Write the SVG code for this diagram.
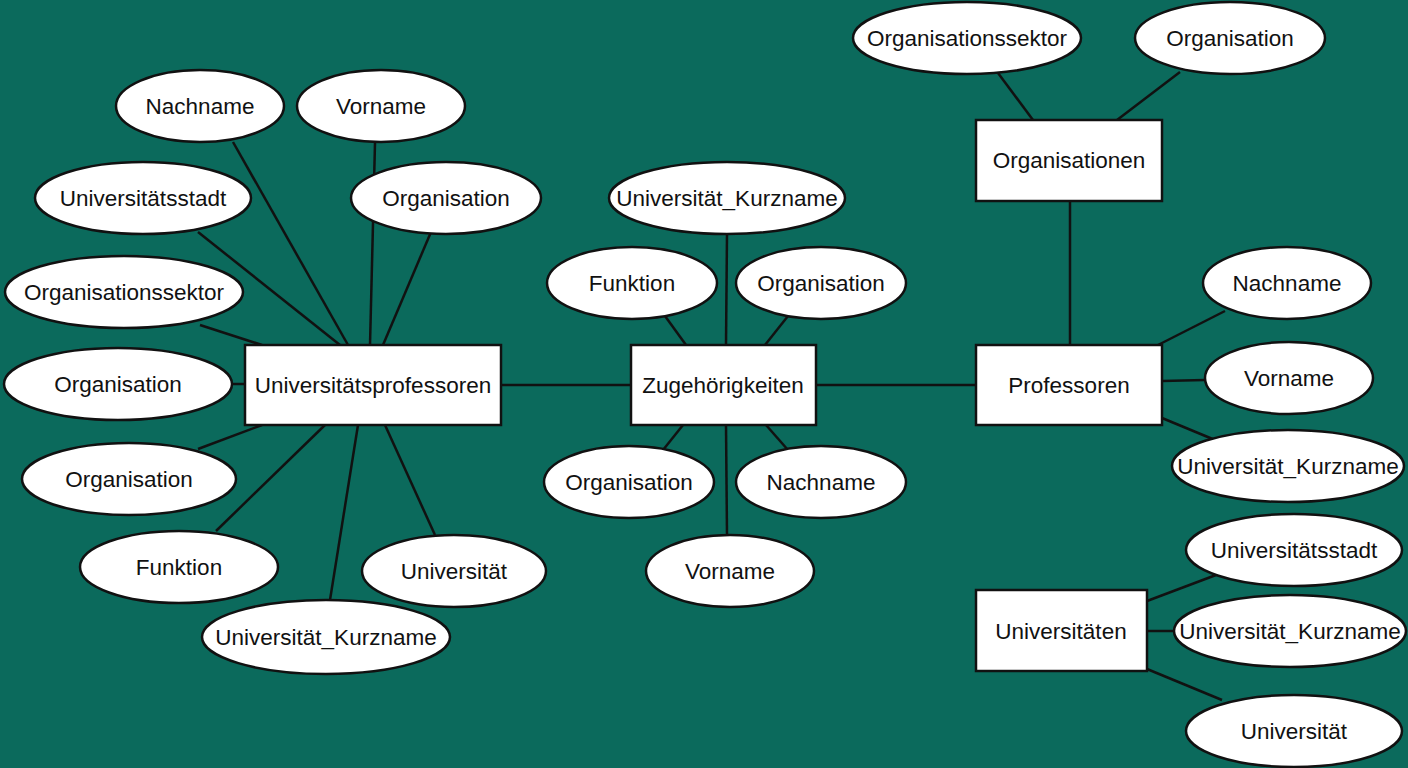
<svg xmlns="http://www.w3.org/2000/svg" width="1408" height="768" viewBox="0 0 1408 768">
<style>
.bg{fill:#0b6a5c}
.e{fill:#fff;stroke:#111;stroke-width:2.5}
.r{fill:#fff;stroke:#111;stroke-width:2.5}
.t{font-family:"Liberation Sans",Arial,sans-serif;font-size:22.5px;fill:#111;text-anchor:middle;dominant-baseline:central}
#connectors line{stroke:#111;stroke-width:2.5}
</style>
<rect class="bg" x="0" y="0" width="1408" height="768"/>
<g id="connectors">
<line x1="233" y1="142" x2="348" y2="345"/>
<line x1="375" y1="143" x2="370" y2="345"/>
<line x1="198" y1="232" x2="340" y2="345"/>
<line x1="431" y1="232" x2="383" y2="345"/>
<line x1="200" y1="325" x2="262" y2="345"/>
<line x1="230" y1="384" x2="245" y2="384"/>
<line x1="198" y1="449" x2="262" y2="425"/>
<line x1="216" y1="531" x2="325" y2="425"/>
<line x1="330" y1="600" x2="358" y2="425"/>
<line x1="435" y1="535" x2="385" y2="425"/>
<line x1="501" y1="385" x2="631" y2="385"/>
<line x1="727" y1="234" x2="726" y2="345"/>
<line x1="665" y1="316" x2="686" y2="345"/>
<line x1="788" y1="316" x2="765" y2="345"/>
<line x1="663" y1="450" x2="683" y2="425"/>
<line x1="788" y1="450" x2="766" y2="425"/>
<line x1="727" y1="535" x2="726" y2="425"/>
<line x1="816" y1="385" x2="976" y2="385"/>
<line x1="1070" y1="201" x2="1070" y2="345"/>
<line x1="1225" y1="311" x2="1158" y2="345"/>
<line x1="1205" y1="380" x2="1162" y2="381"/>
<line x1="1215" y1="440" x2="1162" y2="418"/>
<line x1="998" y1="73" x2="1033" y2="120"/>
<line x1="1180" y1="72" x2="1117" y2="120"/>
<line x1="1216" y1="575" x2="1147" y2="601"/>
<line x1="1174" y1="631" x2="1147" y2="631"/>
<line x1="1222" y1="700" x2="1147" y2="669"/>
</g>
<g id="up"><rect class="r" x="245" y="345" width="256" height="80"/><text class="t" x="373" y="385">Universitätsprofessoren</text></g>
<g id="up-nachname"><ellipse class="e" cx="200" cy="106" rx="84" ry="36"/><text class="t" x="200" y="106">Nachname</text></g>
<g id="up-vorname"><ellipse class="e" cx="381" cy="106" rx="84" ry="36"/><text class="t" x="381" y="106">Vorname</text></g>
<g id="up-stadt"><ellipse class="e" cx="143" cy="198" rx="108" ry="36"/><text class="t" x="143" y="198">Universitätsstadt</text></g>
<g id="up-org1"><ellipse class="e" cx="446" cy="198" rx="95" ry="36"/><text class="t" x="446" y="198">Organisation</text></g>
<g id="up-sektor"><ellipse class="e" cx="124" cy="292" rx="119" ry="36"/><text class="t" x="124" y="292">Organisationssektor</text></g>
<g id="up-org2"><ellipse class="e" cx="118" cy="384" rx="114" ry="36"/><text class="t" x="118" y="384">Organisation</text></g>
<g id="up-org3"><ellipse class="e" cx="129" cy="479" rx="107" ry="36"/><text class="t" x="129" y="479">Organisation</text></g>
<g id="up-funktion"><ellipse class="e" cx="179" cy="567" rx="99" ry="36"/><text class="t" x="179" y="567">Funktion</text></g>
<g id="up-uni"><ellipse class="e" cx="454" cy="571" rx="92" ry="36"/><text class="t" x="454" y="571">Universität</text></g>
<g id="up-kurz"><ellipse class="e" cx="326" cy="637" rx="124" ry="37"/><text class="t" x="326" y="637">Universität_Kurzname</text></g>
<g id="zug"><rect class="r" x="631" y="345" width="185" height="80"/><text class="t" x="723" y="385">Zugehörigkeiten</text></g>
<g id="zug-kurz"><ellipse class="e" cx="727" cy="198" rx="118" ry="36"/><text class="t" x="727" y="198">Universität_Kurzname</text></g>
<g id="zug-funktion"><ellipse class="e" cx="632" cy="283" rx="85" ry="36"/><text class="t" x="632" y="283">Funktion</text></g>
<g id="zug-org1"><ellipse class="e" cx="821" cy="283" rx="85" ry="36"/><text class="t" x="821" y="283">Organisation</text></g>
<g id="zug-org2"><ellipse class="e" cx="629" cy="482" rx="85" ry="36"/><text class="t" x="629" y="482">Organisation</text></g>
<g id="zug-nachname"><ellipse class="e" cx="821" cy="482" rx="85" ry="36"/><text class="t" x="821" y="482">Nachname</text></g>
<g id="zug-vorname"><ellipse class="e" cx="730" cy="571" rx="84" ry="36"/><text class="t" x="730" y="571">Vorname</text></g>
<g id="orgs"><rect class="r" x="976" y="120" width="186" height="81"/><text class="t" x="1069" y="160">Organisationen</text></g>
<g id="orgs-sektor"><ellipse class="e" cx="967" cy="38" rx="114" ry="36"/><text class="t" x="967" y="38">Organisationssektor</text></g>
<g id="orgs-org"><ellipse class="e" cx="1230" cy="38" rx="95" ry="36"/><text class="t" x="1230" y="38">Organisation</text></g>
<g id="prof"><rect class="r" x="976" y="345" width="186" height="80"/><text class="t" x="1069" y="385">Professoren</text></g>
<g id="prof-nachname"><ellipse class="e" cx="1287" cy="283" rx="84" ry="36"/><text class="t" x="1287" y="283">Nachname</text></g>
<g id="prof-vorname"><ellipse class="e" cx="1289" cy="378" rx="84" ry="36"/><text class="t" x="1289" y="378">Vorname</text></g>
<g id="prof-kurz"><ellipse class="e" cx="1288" cy="466" rx="116" ry="36"/><text class="t" x="1288" y="466">Universität_Kurzname</text></g>
<g id="unis"><rect class="r" x="976" y="590" width="171" height="81"/><text class="t" x="1061" y="631">Universitäten</text></g>
<g id="unis-stadt"><ellipse class="e" cx="1294" cy="550" rx="108" ry="36"/><text class="t" x="1294" y="550">Universitätsstadt</text></g>
<g id="unis-kurz"><ellipse class="e" cx="1290" cy="631" rx="116" ry="36"/><text class="t" x="1290" y="631">Universität_Kurzname</text></g>
<g id="unis-uni"><ellipse class="e" cx="1294" cy="731" rx="108" ry="36"/><text class="t" x="1294" y="731">Universität</text></g>
</svg>
